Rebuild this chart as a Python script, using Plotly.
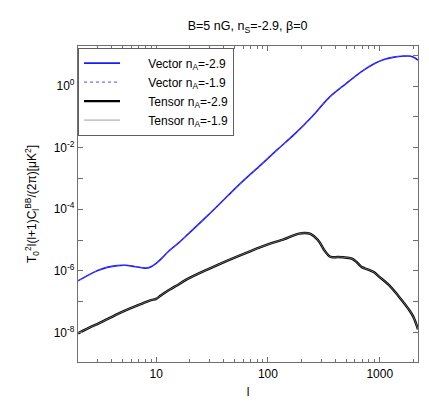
import plotly.graph_objects as go

# multipole l and l(l+1)C_l^BB/(2pi)
l_vector = [2, 2.5, 3, 3.7, 4.5, 5.3, 6.4, 7.5, 8.3, 9.0, 10, 11.5, 13, 15.6, 19.4,
            29, 44, 60, 87, 120, 174, 250, 347, 500, 692, 900, 1110, 1350, 1585,
            1885, 2050, 2200]
vector_m29 = [4.7e-7, 7.4e-7, 1.02e-6, 1.32e-6, 1.48e-6, 1.51e-6, 1.38e-6, 1.26e-6,
              1.23e-6, 1.35e-6, 1.74e-6, 2.8e-6, 4.4e-6, 7.6e-6, 1.58e-5,
              6.3e-5, 2.8e-4, 8.3e-4, 2.8e-3, 8.3e-3, 2.8e-2, 0.105, 0.40, 1.2,
              3.0, 5.4, 7.4, 8.7, 9.3, 9.3, 8.3, 6.9]
vector_m19 = [4.7e-7, 7.4e-7, 1.02e-6, 1.32e-6, 1.48e-6, 1.51e-6, 1.38e-6, 1.26e-6,
              1.23e-6, 1.35e-6, 1.74e-6, 2.8e-6, 4.4e-6, 7.6e-6, 1.58e-5,
              6.3e-5, 2.8e-4, 8.3e-4, 2.8e-3, 8.3e-3, 2.8e-2, 0.105, 0.40, 1.2,
              3.0, 5.4, 7.4, 8.7, 9.3, 9.3, 8.3, 6.9]

l_tensor = [2, 2.5, 3, 3.7, 5.2, 7.4, 9, 10, 11, 12.8, 15, 18.6, 29, 44, 70, 100,
            140, 161, 190, 213, 240, 280, 323, 357, 380, 420, 470, 563, 624, 692,
            780, 883, 980, 1205, 1480, 1820, 2000, 2200]
tensor_m29 = [9.3e-9, 1.41e-8, 1.9e-8, 2.75e-8, 5.0e-8, 8.5e-8, 1.12e-7, 1.23e-7,
              1.58e-7, 2.3e-7, 3.2e-7, 5.2e-7, 1.12e-6, 2.2e-6, 4.4e-6, 7.2e-6,
              1.07e-5, 1.32e-5, 1.62e-5, 1.7e-5, 1.58e-5, 1.0e-5, 4.4e-6, 2.9e-6,
              2.75e-6, 2.8e-6, 2.75e-6, 2.5e-6, 1.9e-6, 1.32e-6, 1.12e-6, 9.1e-7,
              6.6e-7, 3.5e-7, 1.48e-7, 5.6e-8, 3.2e-8, 1.26e-8]
tensor_m19 = [9.3e-9, 1.41e-8, 1.9e-8, 2.75e-8, 5.0e-8, 8.5e-8, 1.12e-7, 1.23e-7,
              1.58e-7, 2.3e-7, 3.2e-7, 5.2e-7, 1.12e-6, 2.2e-6, 4.4e-6, 7.2e-6,
              1.07e-5, 1.32e-5, 1.62e-5, 1.7e-5, 1.58e-5, 1.0e-5, 4.4e-6, 2.9e-6,
              2.75e-6, 2.8e-6, 2.75e-6, 2.5e-6, 1.9e-6, 1.32e-6, 1.12e-6, 9.1e-7,
              6.6e-7, 3.5e-7, 1.48e-7, 5.6e-8, 3.2e-8, 1.26e-8]

y_tick_vals = [1e-8, 1e-6, 1e-4, 1e-2, 1e0]
y_tick_text = ["10<sup>-8</sup>", "10<sup>-6</sup>", "10<sup>-4</sup>",
               "10<sup>-2</sup>", "10<sup>0</sup>"]
y_minor_vals = [1e-9, 1e-7, 1e-5, 1e-3, 1e-1, 1e1]

FONT = "Liberation Sans, Arial, sans-serif"
AXIS_COLOR = "#707070"
PAD = "\u00a0" * 7


def build_chart() -> go.Figure:
    fig = go.Figure()

    fig.add_scatter(x=l_vector, y=vector_m29, mode="lines", line_shape="spline",
                    name=PAD + "Vector n<sub>A</sub>=-2.9",
                    line=dict(color="#1a1aff", width=1.6))
    fig.add_scatter(x=l_vector, y=vector_m19, mode="lines", line_shape="spline",
                    name=PAD + "Vector n<sub>A</sub>=-1.9",
                    line=dict(color="#4a4aff", width=1, dash="dot"))
    fig.add_scatter(x=l_tensor, y=tensor_m29, mode="lines", line_shape="spline",
                    name=PAD + "Tensor n<sub>A</sub>=-2.9",
                    line=dict(color="black", width=2.4))
    fig.add_scatter(x=l_tensor, y=tensor_m19, mode="lines", line_shape="spline",
                    name=PAD + "Tensor n<sub>A</sub>=-1.9",
                    line=dict(color="#888888", width=0.8))

    axis_common = dict(
        showgrid=False, zeroline=False, showline=True, linecolor=AXIS_COLOR,
        linewidth=1.2, mirror="ticks", ticks="inside", ticklen=5,
        tickcolor=AXIS_COLOR, tickfont=dict(size=12, color="black", family=FONT),
    )

    fig.update_xaxes(
        type="log", range=[0.301, 3.3424],
        tickvals=[10, 100, 1000], ticktext=["10", "100", "1000"],
        minor=dict(ticks="inside", ticklen=3, tickcolor=AXIS_COLOR, dtick="D1"),
        title=dict(text="l", font=dict(size=12, family=FONT), standoff=8),
        **axis_common,
    )
    fig.update_yaxes(
        type="log", range=[-8.96, 1.3],
        tickvals=y_tick_vals, ticktext=y_tick_text,
        minor=dict(ticks="inside", ticklen=5, tickcolor=AXIS_COLOR,
                   tickvals=y_minor_vals),
        title=dict(text="T<sub>0</sub><sup>2</sup>l(l+1)C<sub>l</sub><sup>BB</sup>/(2π)[μK<sup>2</sup>]",
                   font=dict(size=12, family=FONT), standoff=14),
        **axis_common,
    )

    fig.update_layout(
        width=429, height=401,
        margin=dict(l=70, r=19, t=38, b=41),
        paper_bgcolor="white", plot_bgcolor="white",
        font=dict(family=FONT, size=12, color="black"),
        title=dict(text="B=5 nG, n<sub>S</sub>=-2.9, β=0", x=0.5585, xanchor="center",
                   y=0.955, yanchor="middle", font=dict(size=12.5, family=FONT)),
        showlegend=True,
        legend=dict(x=0.0, y=0.995, xanchor="left", yanchor="top",
                    bordercolor="#606060", borderwidth=1, bgcolor="white",
                    itemwidth=36, tracegroupgap=0,
                    font=dict(size=12, family=FONT)),
    )
    return fig


if __name__ == "__main__":
    fig = build_chart()
    fig.write_html("out.html")
